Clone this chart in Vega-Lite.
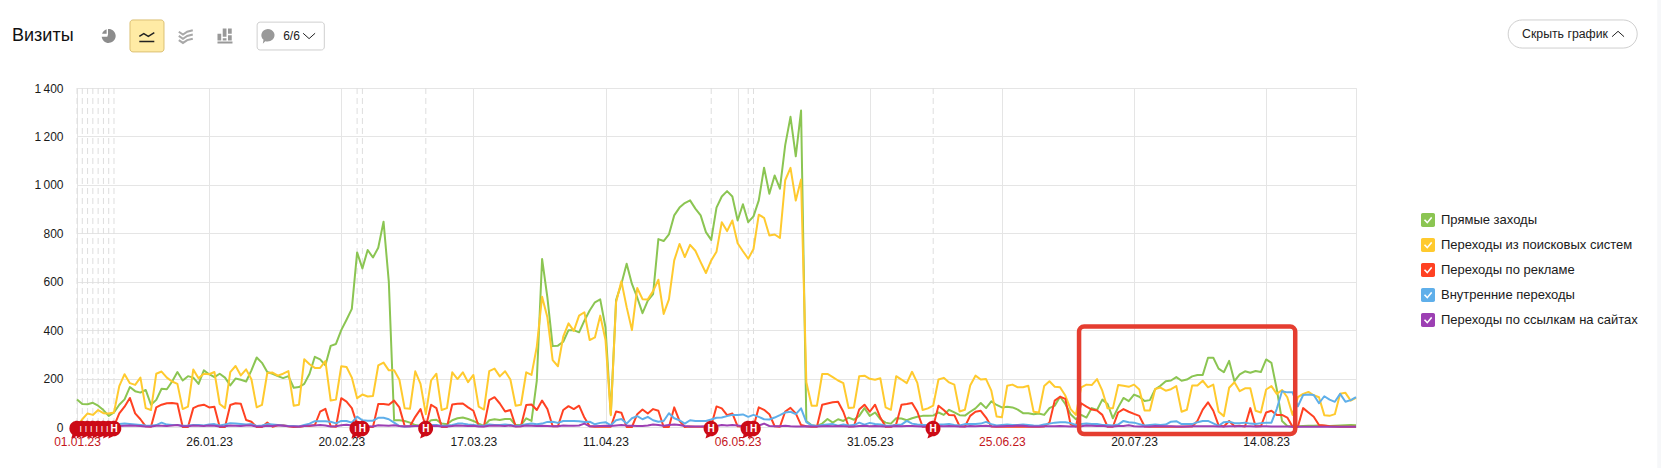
{"$schema":"https://vega.github.io/schema/vega-lite/v6.json","width":1279,"height":339,"autosize":{"type":"none"},"padding":{"left":77,"top":88,"right":305,"bottom":41},"background":"white",
"config":{"font":"Liberation Sans","view":{"stroke":"#e5e5e5"},"text":{"font":"Liberation Sans"}},
"datasets":{"daily":[
{"d":"2023-01-01","g":114,"y":4,"r":2,"b":20,"p":5},{"d":"2023-01-02","g":95,"y":32,"r":2,"b":18,"p":4},{"d":"2023-01-03","g":94,"y":56,"r":3,"b":16,"p":5},{"d":"2023-01-04","g":100,"y":50,"r":2,"b":15,"p":4},{"d":"2023-01-05","g":88,"y":70,"r":2,"b":14,"p":5},{"d":"2023-01-06","g":70,"y":57,"r":2,"b":13,"p":4},{"d":"2023-01-07","g":46,"y":56,"r":2,"b":12,"p":4},{"d":"2023-01-08","g":60,"y":60,"r":4,"b":12,"p":3},{"d":"2023-01-09","g":92,"y":169,"r":56,"b":12,"p":4},{"d":"2023-01-10","g":114,"y":218,"r":84,"b":14,"p":5},{"d":"2023-01-11","g":165,"y":181,"r":120,"b":12,"p":6},{"d":"2023-01-12","g":148,"y":174,"r":56,"b":10,"p":5},{"d":"2023-01-13","g":142,"y":204,"r":32,"b":8,"p":4},{"d":"2023-01-14","g":153,"y":78,"r":3,"b":6,"p":2},{"d":"2023-01-15","g":92,"y":70,"r":1,"b":5,"p":2},{"d":"2023-01-16","g":112,"y":220,"r":81,"b":8,"p":5},{"d":"2023-01-17","g":158,"y":229,"r":92,"b":18,"p":5},{"d":"2023-01-18","g":156,"y":204,"r":98,"b":10,"p":4},{"d":"2023-01-19","g":188,"y":188,"r":99,"b":8,"p":6},{"d":"2023-01-20","g":227,"y":178,"r":96,"b":8,"p":8},{"d":"2023-01-21","g":192,"y":74,"r":0,"b":5,"p":3},{"d":"2023-01-22","g":210,"y":84,"r":0,"b":6,"p":3},{"d":"2023-01-23","g":204,"y":237,"r":78,"b":8,"p":6},{"d":"2023-01-24","g":178,"y":201,"r":88,"b":8,"p":5},{"d":"2023-01-25","g":234,"y":220,"r":92,"b":6,"p":4},{"d":"2023-01-26","g":218,"y":218,"r":81,"b":10,"p":6},{"d":"2023-01-27","g":206,"y":227,"r":84,"b":12,"p":5},{"d":"2023-01-28","g":220,"y":95,"r":0,"b":6,"p":2},{"d":"2023-01-29","g":204,"y":78,"r":0,"b":10,"p":3},{"d":"2023-01-30","g":172,"y":227,"r":91,"b":16,"p":6},{"d":"2023-01-31","g":200,"y":252,"r":98,"b":14,"p":5},
{"d":"2023-02-01","g":195,"y":213,"r":96,"b":12,"p":4},{"d":"2023-02-02","g":188,"y":238,"r":29,"b":10,"p":6},{"d":"2023-02-03","g":234,"y":197,"r":22,"b":12,"p":6},{"d":"2023-02-04","g":287,"y":81,"r":0,"b":4,"p":2},{"d":"2023-02-05","g":265,"y":91,"r":0,"b":6,"p":2},{"d":"2023-02-06","g":227,"y":223,"r":18,"b":12,"p":5},{"d":"2023-02-07","g":220,"y":225,"r":1,"b":10,"p":4},{"d":"2023-02-08","g":210,"y":212,"r":7,"b":8,"p":7},{"d":"2023-02-09","g":202,"y":220,"r":7,"b":6,"p":5},{"d":"2023-02-10","g":210,"y":231,"r":3,"b":4,"p":3},{"d":"2023-02-11","g":162,"y":88,"r":0,"b":4,"p":2},{"d":"2023-02-12","g":165,"y":92,"r":0,"b":2,"p":2},{"d":"2023-02-13","g":178,"y":280,"r":4,"b":8,"p":4},{"d":"2023-02-14","g":220,"y":259,"r":4,"b":14,"p":6},{"d":"2023-02-15","g":290,"y":244,"r":8,"b":24,"p":6},{"d":"2023-02-16","g":279,"y":244,"r":63,"b":24,"p":8},{"d":"2023-02-17","g":255,"y":272,"r":75,"b":24,"p":6},{"d":"2023-02-18","g":335,"y":109,"r":3,"b":22,"p":2},{"d":"2023-02-19","g":343,"y":113,"r":1,"b":15,"p":3},{"d":"2023-02-20","g":400,"y":251,"r":119,"b":25,"p":7},{"d":"2023-02-21","g":443,"y":248,"r":105,"b":25,"p":9},{"d":"2023-02-22","g":488,"y":204,"r":78,"b":18,"p":6},{"d":"2023-02-23","g":721,"y":119,"r":11,"b":43,"p":3},{"d":"2023-02-24","g":655,"y":134,"r":0,"b":28,"p":3},{"d":"2023-02-25","g":731,"y":126,"r":0,"b":26,"p":3},{"d":"2023-02-26","g":700,"y":128,"r":0,"b":26,"p":2},{"d":"2023-02-27","g":740,"y":254,"r":95,"b":38,"p":7},{"d":"2023-02-28","g":848,"y":266,"r":95,"b":38,"p":6},
{"d":"2023-03-01","g":599,"y":234,"r":92,"b":32,"p":5},{"d":"2023-03-02","g":28,"y":234,"r":109,"b":18,"p":7},{"d":"2023-03-03","g":28,"y":195,"r":81,"b":4,"p":4},{"d":"2023-03-04","g":25,"y":77,"r":4,"b":2,"p":2},{"d":"2023-03-05","g":18,"y":75,"r":3,"b":3,"p":3},{"d":"2023-03-06","g":8,"y":230,"r":42,"b":4,"p":4},{"d":"2023-03-07","g":4,"y":178,"r":74,"b":5,"p":5},{"d":"2023-03-08","g":10,"y":53,"r":0,"b":3,"p":3},{"d":"2023-03-09","g":28,"y":192,"r":92,"b":8,"p":4},{"d":"2023-03-10","g":30,"y":220,"r":78,"b":8,"p":5},{"d":"2023-03-11","g":14,"y":70,"r":0,"b":5,"p":2},{"d":"2023-03-12","g":11,"y":78,"r":0,"b":6,"p":2},{"d":"2023-03-13","g":28,"y":226,"r":93,"b":8,"p":4},{"d":"2023-03-14","g":36,"y":198,"r":96,"b":14,"p":6},{"d":"2023-03-15","g":39,"y":226,"r":97,"b":14,"p":5},{"d":"2023-03-16","g":33,"y":185,"r":81,"b":10,"p":4},{"d":"2023-03-17","g":25,"y":215,"r":67,"b":8,"p":5},{"d":"2023-03-18","g":14,"y":84,"r":4,"b":6,"p":2},{"d":"2023-03-19","g":4,"y":72,"r":3,"b":5,"p":2},{"d":"2023-03-20","g":28,"y":231,"r":111,"b":10,"p":5},{"d":"2023-03-21","g":32,"y":241,"r":123,"b":8,"p":6},{"d":"2023-03-22","g":29,"y":209,"r":97,"b":8,"p":5},{"d":"2023-03-23","g":33,"y":230,"r":64,"b":10,"p":4},{"d":"2023-03-24","g":33,"y":196,"r":70,"b":8,"p":6},{"d":"2023-03-25","g":8,"y":88,"r":3,"b":4,"p":2},{"d":"2023-03-26","g":8,"y":92,"r":3,"b":6,"p":3},{"d":"2023-03-27","g":36,"y":226,"r":91,"b":11,"p":6},{"d":"2023-03-28","g":25,"y":215,"r":93,"b":14,"p":5},{"d":"2023-03-29","g":192,"y":332,"r":70,"b":11,"p":4},{"d":"2023-03-30","g":694,"y":538,"r":109,"b":14,"p":5},{"d":"2023-03-31","g":535,"y":453,"r":74,"b":21,"p":4},
{"d":"2023-04-01","g":334,"y":276,"r":3,"b":22,"p":3},{"d":"2023-04-02","g":336,"y":251,"r":3,"b":17,"p":3},{"d":"2023-04-03","g":352,"y":373,"r":70,"b":25,"p":6},{"d":"2023-04-04","g":400,"y":428,"r":86,"b":25,"p":5},{"d":"2023-04-05","g":400,"y":397,"r":74,"b":25,"p":5},{"d":"2023-04-06","g":391,"y":460,"r":88,"b":24,"p":6},{"d":"2023-04-07","g":439,"y":474,"r":39,"b":21,"p":14},{"d":"2023-04-08","g":481,"y":359,"r":3,"b":22,"p":3},{"d":"2023-04-09","g":515,"y":370,"r":1,"b":11,"p":3},{"d":"2023-04-10","g":527,"y":460,"r":1,"b":17,"p":4},{"d":"2023-04-11","g":411,"y":359,"r":1,"b":20,"p":5},{"d":"2023-04-12","g":53,"y":49,"r":1,"b":7,"p":4},{"d":"2023-04-13","g":524,"y":515,"r":64,"b":28,"p":6},{"d":"2023-04-14","g":591,"y":602,"r":59,"b":33,"p":8},{"d":"2023-04-15","g":674,"y":495,"r":0,"b":14,"p":6},{"d":"2023-04-16","g":591,"y":400,"r":0,"b":36,"p":5},{"d":"2023-04-17","g":535,"y":574,"r":53,"b":45,"p":4},{"d":"2023-04-18","g":470,"y":528,"r":72,"b":32,"p":4},{"d":"2023-04-19","g":522,"y":527,"r":56,"b":42,"p":6},{"d":"2023-04-20","g":549,"y":561,"r":74,"b":28,"p":10},{"d":"2023-04-21","g":776,"y":608,"r":67,"b":22,"p":8},{"d":"2023-04-22","g":768,"y":467,"r":0,"b":25,"p":5},{"d":"2023-04-23","g":795,"y":527,"r":0,"b":57,"p":8},{"d":"2023-04-24","g":874,"y":688,"r":81,"b":36,"p":10},{"d":"2023-04-25","g":906,"y":756,"r":25,"b":28,"p":8},{"d":"2023-04-26","g":925,"y":702,"r":0,"b":14,"p":4},{"d":"2023-04-27","g":936,"y":752,"r":2,"b":28,"p":2},{"d":"2023-04-28","g":902,"y":728,"r":1,"b":25,"p":2},{"d":"2023-04-29","g":874,"y":681,"r":1,"b":25,"p":2},{"d":"2023-04-30","g":805,"y":636,"r":1,"b":25,"p":3},
{"d":"2023-05-01","g":773,"y":688,"r":5,"b":31,"p":4},{"d":"2023-05-02","g":906,"y":724,"r":85,"b":38,"p":4},{"d":"2023-05-03","g":952,"y":846,"r":77,"b":39,"p":8},{"d":"2023-05-04","g":974,"y":809,"r":49,"b":45,"p":6},{"d":"2023-05-05","g":952,"y":853,"r":56,"b":50,"p":8},{"d":"2023-05-06","g":853,"y":759,"r":3,"b":50,"p":6},{"d":"2023-05-07","g":920,"y":726,"r":1,"b":52,"p":3},{"d":"2023-05-08","g":846,"y":695,"r":1,"b":42,"p":3},{"d":"2023-05-09","g":870,"y":735,"r":1,"b":50,"p":3},{"d":"2023-05-10","g":936,"y":877,"r":81,"b":42,"p":6},{"d":"2023-05-11","g":1071,"y":864,"r":71,"b":32,"p":14},{"d":"2023-05-12","g":963,"y":791,"r":53,"b":31,"p":4},{"d":"2023-05-13","g":1039,"y":795,"r":3,"b":39,"p":3},{"d":"2023-05-14","g":984,"y":781,"r":1,"b":49,"p":3},{"d":"2023-05-15","g":1164,"y":1019,"r":64,"b":60,"p":5},{"d":"2023-05-16","g":1281,"y":1070,"r":79,"b":63,"p":3},{"d":"2023-05-17","g":1118,"y":935,"r":56,"b":53,"p":2},{"d":"2023-05-18","g":1307,"y":1022,"r":8,"b":77,"p":2},{"d":"2023-05-19","g":25,"y":185,"r":3,"b":20,"p":3},{"d":"2023-05-20","g":7,"y":88,"r":1,"b":7,"p":2},{"d":"2023-05-21","g":4,"y":88,"r":1,"b":4,"p":2},{"d":"2023-05-22","g":14,"y":219,"r":92,"b":8,"p":3},{"d":"2023-05-23","g":33,"y":219,"r":97,"b":10,"p":4},{"d":"2023-05-24","g":18,"y":206,"r":102,"b":12,"p":3},{"d":"2023-05-25","g":32,"y":192,"r":104,"b":5,"p":4},{"d":"2023-05-26","g":25,"y":181,"r":63,"b":10,"p":3},{"d":"2023-05-27","g":39,"y":78,"r":2,"b":6,"p":2},{"d":"2023-05-28","g":30,"y":81,"r":3,"b":8,"p":2},{"d":"2023-05-29","g":46,"y":210,"r":72,"b":18,"p":4},{"d":"2023-05-30","g":78,"y":212,"r":92,"b":10,"p":5},{"d":"2023-05-31","g":46,"y":199,"r":63,"b":17,"p":3},
{"d":"2023-06-01","g":60,"y":195,"r":92,"b":12,"p":4},{"d":"2023-06-02","g":32,"y":201,"r":39,"b":10,"p":3},{"d":"2023-06-03","g":18,"y":81,"r":1,"b":5,"p":2},{"d":"2023-06-04","g":14,"y":71,"r":1,"b":5,"p":2},{"d":"2023-06-05","g":36,"y":210,"r":11,"b":8,"p":4},{"d":"2023-06-06","g":35,"y":196,"r":92,"b":10,"p":3},{"d":"2023-06-07","g":28,"y":181,"r":95,"b":25,"p":4},{"d":"2023-06-08","g":36,"y":228,"r":99,"b":14,"p":4},{"d":"2023-06-09","g":42,"y":182,"r":63,"b":10,"p":3},{"d":"2023-06-10","g":46,"y":70,"r":1,"b":8,"p":2},{"d":"2023-06-11","g":46,"y":77,"r":1,"b":8,"p":2},{"d":"2023-06-12","g":47,"y":88,"r":1,"b":8,"p":3},{"d":"2023-06-13","g":60,"y":196,"r":88,"b":10,"p":4},{"d":"2023-06-14","g":50,"y":203,"r":70,"b":10,"p":3},{"d":"2023-06-15","g":71,"y":184,"r":50,"b":12,"p":4},{"d":"2023-06-16","g":60,"y":175,"r":49,"b":8,"p":3},{"d":"2023-06-17","g":49,"y":64,"r":3,"b":6,"p":2},{"d":"2023-06-18","g":47,"y":71,"r":2,"b":12,"p":2},{"d":"2023-06-19","g":63,"y":171,"r":46,"b":12,"p":4},{"d":"2023-06-20","g":77,"y":212,"r":63,"b":12,"p":3},{"d":"2023-06-21","g":99,"y":196,"r":67,"b":14,"p":4},{"d":"2023-06-22","g":78,"y":198,"r":39,"b":21,"p":5},{"d":"2023-06-23","g":106,"y":150,"r":2,"b":12,"p":3},{"d":"2023-06-24","g":91,"y":43,"r":1,"b":6,"p":2},{"d":"2023-06-25","g":81,"y":40,"r":1,"b":8,"p":3},{"d":"2023-06-26","g":84,"y":170,"r":1,"b":10,"p":4},{"d":"2023-06-27","g":81,"y":175,"r":1,"b":8,"p":4},{"d":"2023-06-28","g":72,"y":164,"r":1,"b":8,"p":6},{"d":"2023-06-29","g":57,"y":164,"r":1,"b":10,"p":5},{"d":"2023-06-30","g":57,"y":170,"r":1,"b":8,"p":3},
{"d":"2023-07-01","g":53,"y":63,"r":1,"b":6,"p":2},{"d":"2023-07-02","g":56,"y":60,"r":1,"b":5,"p":2},{"d":"2023-07-03","g":50,"y":169,"r":2,"b":10,"p":3},{"d":"2023-07-04","g":78,"y":189,"r":18,"b":14,"p":3},{"d":"2023-07-05","g":88,"y":166,"r":109,"b":18,"p":3},{"d":"2023-07-06","g":125,"y":164,"r":125,"b":20,"p":4},{"d":"2023-07-07","g":95,"y":130,"r":116,"b":20,"p":3},{"d":"2023-07-08","g":53,"y":74,"r":11,"b":16,"p":2},{"d":"2023-07-09","g":32,"y":50,"r":2,"b":8,"p":2},{"d":"2023-07-10","g":50,"y":164,"r":98,"b":12,"p":3},{"d":"2023-07-11","g":39,"y":175,"r":84,"b":14,"p":6},{"d":"2023-07-12","g":78,"y":173,"r":72,"b":12,"p":5},{"d":"2023-07-13","g":70,"y":198,"r":68,"b":12,"p":4},{"d":"2023-07-14","g":113,"y":150,"r":50,"b":8,"p":5},{"d":"2023-07-15","g":95,"y":77,"r":1,"b":8,"p":2},{"d":"2023-07-16","g":36,"y":77,"r":1,"b":6,"p":2},{"d":"2023-07-17","g":81,"y":173,"r":60,"b":10,"p":4},{"d":"2023-07-18","g":120,"y":170,"r":74,"b":25,"p":4},{"d":"2023-07-19","g":107,"y":166,"r":63,"b":20,"p":7},{"d":"2023-07-20","g":134,"y":175,"r":54,"b":18,"p":3},{"d":"2023-07-21","g":125,"y":155,"r":46,"b":12,"p":2},{"d":"2023-07-22","g":107,"y":68,"r":2,"b":6,"p":2},{"d":"2023-07-23","g":111,"y":68,"r":1,"b":8,"p":2},{"d":"2023-07-24","g":156,"y":157,"r":1,"b":10,"p":4},{"d":"2023-07-25","g":170,"y":163,"r":2,"b":8,"p":3},{"d":"2023-07-26","g":189,"y":150,"r":1,"b":10,"p":3},{"d":"2023-07-27","g":192,"y":156,"r":1,"b":22,"p":3},{"d":"2023-07-28","g":206,"y":169,"r":1,"b":24,"p":2},{"d":"2023-07-29","g":191,"y":63,"r":1,"b":12,"p":2},{"d":"2023-07-30","g":196,"y":71,"r":2,"b":12,"p":2},{"d":"2023-07-31","g":209,"y":171,"r":2,"b":12,"p":3},
{"d":"2023-08-01","g":215,"y":171,"r":25,"b":20,"p":3},{"d":"2023-08-02","g":215,"y":191,"r":72,"b":25,"p":3},{"d":"2023-08-03","g":286,"y":164,"r":102,"b":25,"p":3},{"d":"2023-08-04","g":286,"y":175,"r":67,"b":15,"p":3},{"d":"2023-08-05","g":241,"y":63,"r":7,"b":5,"p":2},{"d":"2023-08-06","g":226,"y":45,"r":2,"b":20,"p":2},{"d":"2023-08-07","g":273,"y":162,"r":25,"b":22,"p":3},{"d":"2023-08-08","g":189,"y":185,"r":3,"b":16,"p":3},{"d":"2023-08-09","g":217,"y":148,"r":5,"b":16,"p":3},{"d":"2023-08-10","g":230,"y":160,"r":2,"b":18,"p":3},{"d":"2023-08-11","g":224,"y":160,"r":78,"b":14,"p":3},{"d":"2023-08-12","g":231,"y":67,"r":3,"b":12,"p":2},{"d":"2023-08-13","g":227,"y":60,"r":3,"b":16,"p":3},{"d":"2023-08-14","g":279,"y":155,"r":60,"b":18,"p":3},{"d":"2023-08-15","g":265,"y":169,"r":67,"b":18,"p":2},{"d":"2023-08-16","g":157,"y":137,"r":50,"b":74,"p":2},{"d":"2023-08-17","g":25,"y":153,"r":50,"b":148,"p":2},{"d":"2023-08-18","g":4,"y":123,"r":39,"b":143,"p":2},{"d":"2023-08-19","g":2,"y":50,"r":1,"b":143,"p":1},{"d":"2023-08-20","g":3,"y":123,"r":1,"b":85,"p":1},{"d":"2023-08-21","g":4,"y":137,"r":78,"b":132,"p":1},{"d":"2023-08-22","g":5,"y":145,"r":60,"b":134,"p":1},{"d":"2023-08-23","g":5,"y":131,"r":42,"b":132,"p":1},{"d":"2023-08-24","g":6,"y":123,"r":8,"b":98,"p":1},{"d":"2023-08-25","g":5,"y":49,"r":6,"b":127,"p":1},{"d":"2023-08-26","g":4,"y":46,"r":3,"b":113,"p":1},{"d":"2023-08-27","g":5,"y":53,"r":2,"b":104,"p":1},{"d":"2023-08-28","g":6,"y":137,"r":1,"b":137,"p":1},{"d":"2023-08-29","g":7,"y":141,"r":1,"b":104,"p":1},{"d":"2023-08-30","g":8,"y":109,"r":1,"b":111,"p":1},{"d":"2023-08-31","g":7,"y":120,"r":1,"b":123,"p":1}],
"flags":[{"d":"2023-01-01","t":""},{"d":"2023-01-02","t":"s"},{"d":"2023-01-03","t":"s"},{"d":"2023-01-04","t":"s"},{"d":"2023-01-05","t":"s"},{"d":"2023-01-06","t":"s"},{"d":"2023-01-07","t":"s"},{"d":"2023-01-08","t":"h"},{"d":"2023-02-23","t":"s"},{"d":"2023-02-24","t":"h"},{"d":"2023-03-08","t":"h"},{"d":"2023-05-01","t":"h"},{"d":"2023-05-08","t":"s"},{"d":"2023-05-09","t":"h"},{"d":"2023-06-12","t":"h"}]},
"layer":[
{"data":{"values":[{"a":"2023-10-27","b":"2023-10-28","lo":-173,"hi":1763}]},"mark":{"type":"rect","fill":"#f6f7f9"},"encoding":{"x":{"field":"a","type":"temporal","title":null,"scale":{"type":"utc","domain":[{"year":2023,"month":1,"date":1,"utc":true},{"year":2023,"month":8,"date":31,"utc":true}]},"axis":{"values":[{"year":2023,"month":1,"date":1,"utc":true},{"year":2023,"month":1,"date":26,"utc":true},{"year":2023,"month":2,"date":20,"utc":true},{"year":2023,"month":3,"date":17,"utc":true},{"year":2023,"month":4,"date":11,"utc":true},{"year":2023,"month":5,"date":6,"utc":true},{"year":2023,"month":5,"date":31,"utc":true},{"year":2023,"month":6,"date":25,"utc":true},{"year":2023,"month":7,"date":20,"utc":true},{"year":2023,"month":8,"date":14,"utc":true}],"labelExpr":"utcFormat(datum.value,'%d.%m.%y')","labelAngle":0,"labelFontSize":12,"labelFont":"Liberation Sans","labelColor":{"condition":{"test":"indexof(['01.01.23','06.05.23','25.06.23'],utcFormat(datum.value,'%d.%m.%y'))>=0","value":"#c4161c"},"value":"#1a1a1a"},"labelOverlap":false,"labelBound":false,"labelFlush":false,"labelPadding":9,"domain":false,"ticks":false,"grid":true,"gridColor":"#e5e5e5","gridWidth":1}},"x2":{"field":"b"},"y":{"field":"lo","type":"quantitative","title":null,"scale":{"domain":[0,1400],"nice":false},"axis":{"values":[0,200,400,600,800,1000,1200,1400],"labelExpr":"replace(format(datum.value,','),',','\u2009')","labelFontSize":12,"labelFont":"Liberation Sans","labelColor":"#1a1a1a","labelPadding":14,"domain":false,"ticks":false,"grid":true,"gridColor":"#e5e5e5","gridWidth":1}},"y2":{"field":"hi"}}},
{"data":{"name":"flags"},"mark":{"type":"rule","stroke":"#dedede","strokeWidth":1,"strokeDash":[6,4]},"encoding":{"x":{"field":"d","type":"temporal"}}},
{"data":{"name":"daily"},"transform":[{"fold":["g","y","r","b","p"],"as":["series","visits"]}],"mark":{"type":"line","strokeWidth":2,"strokeJoin":"round","clip":false},"encoding":{"x":{"field":"d","type":"temporal"},"y":{"field":"visits","type":"quantitative"},"stroke":{"field":"series","type":"nominal","legend":null,"scale":{"domain":["g","y","r","b","p"],"range":["#8bc552","#ffca2e","#ff4122","#5fafea","#9c3fb3"]}}}},
{"data":{"values":[{"series":"g"},{"series":"y"},{"series":"r"},{"series":"b"},{"series":"p"}]},"mark":{"type":"point","filled":true,"size":0},"encoding":{"fill":{"field":"series","type":"nominal","scale":{"domain":["g","y","r","b","p"],"range":["#8bc552","#ffca2e","#ff4122","#5fafea","#9c3fb3"]},"legend":{"orient":"none","legendX":1344,"legendY":125,"title":null,"padding":0,"symbolType":"M-.75,-1H.75A.25,.25 0 0 1 1,-.75V.75A.25,.25 0 0 1 .75,1H-.75A.25,.25 0 0 1 -1,.75V-.75A.25,.25 0 0 1 -.75,-1ZM-.58,.04L-.1,.55L.6,-.28L.45,-.45L-.1,.2L-.42,-.12Z","symbolSize":196,"symbolOpacity":1,"symbolStrokeWidth":0,"labelFontSize":13,"labelFont":"Liberation Sans","labelColor":"#1a1a1a","labelOffset":6,"labelLimit":280,"rowPadding":11,"labelExpr":"{'g':'Прямые заходы','y':'Переходы из поисковых систем','r':'Переходы по рекламе','b':'Внутренние переходы','p':'Переходы по ссылкам на сайтах'}[datum.label]"}}}},
{"data":{"name":"flags"},"mark":{"type":"point","filled":true,"opacity":1,"color":"#cc0a16","size":235,"yOffset":1.5,"shape":"M0,-1A1,1 0 1 1 -.1,1L-.75,1.3L-.6,.8A1,1 0 0 1 0,-1Z"},"encoding":{"x":{"field":"d","type":"temporal"},"y":{"datum":0}}},
{"data":{"name":"flags"},"transform":[{"filter":"datum.t=='h'"}],"mark":{"type":"text","text":"Н","color":"white","fontSize":10,"fontWeight":"bold","yOffset":1.5,"baseline":"middle"},"encoding":{"x":{"field":"d","type":"temporal"},"y":{"datum":0}}},
{"data":{"name":"flags"},"transform":[{"filter":"datum.t=='s'"}],"mark":{"type":"text","text":"I","color":"white","fontSize":9,"fontWeight":"normal","yOffset":1.5,"dx":-1.5,"baseline":"middle"},"encoding":{"x":{"field":"d","type":"temporal"},"y":{"datum":0}}},
{"data":{"values":[{"a":"2023-07-09T14:24:00Z","b":"2023-08-19T12:00:00Z","lo":-29,"hi":415}]},"mark":{"type":"rect","fill":"transparent","stroke":"#e53d30","strokeWidth":4.5,"cornerRadius":5},"encoding":{"x":{"field":"a","type":"temporal"},"x2":{"field":"b"},"y":{"field":"lo","type":"quantitative"},"y2":{"field":"hi"}}},
{"data":{"values":[{"a":"2023-09-28T19:00:00Z","b":"2023-10-23T05:00:00Z","lo":1565,"hi":1681}]},"mark":{"type":"rect","fill":"white","stroke":"#cfcfcf","strokeWidth":1,"cornerRadius":14},"encoding":{"x":{"field":"a","type":"temporal"},"x2":{"field":"b"},"y":{"field":"lo","type":"quantitative"},"y2":{"field":"hi"}}},
{"data":{"values":[{"a":"2023-01-11T00:40:00Z","b":"2023-01-17T11:00:00Z","lo":1549,"hi":1681}]},"mark":{"type":"rect","fill":"#ffeba5","stroke":"#dcc074","strokeWidth":1,"cornerRadius":3},"encoding":{"x":{"field":"a","type":"temporal"},"x2":{"field":"b"},"y":{"field":"lo","type":"quantitative"},"y2":{"field":"hi"}}},
{"data":{"values":[{"a":"2023-02-04T02:00:00Z","b":"2023-02-16T19:00:00Z","lo":1557,"hi":1672}]},"mark":{"type":"rect","fill":"white","stroke":"#cfcfcf","strokeWidth":1,"cornerRadius":3},"encoding":{"x":{"field":"a","type":"temporal"},"x2":{"field":"b"},"y":{"field":"lo","type":"quantitative"},"y2":{"field":"hi"}}},
{"data":{"values":[{"d":"2022-12-19T17:00:00Z","v":1615,"t":"Визиты"}]},"mark":{"type":"text","align":"left","baseline":"middle","fontSize":18,"color":"#111"},"encoding":{"x":{"field":"d","type":"temporal"},"y":{"field":"v","type":"quantitative"},"text":{"field":"t"}}},
{"data":{"values":[{"d":"2023-10-01T10:00:00Z","v":1623,"t":"Скрыть график"}]},"mark":{"type":"text","align":"left","baseline":"middle","fontSize":12.3,"color":"#222"},"encoding":{"x":{"field":"d","type":"temporal"},"y":{"field":"v","type":"quantitative"},"text":{"field":"t"}}},
{"data":{"values":[{"d":"2023-02-10T14:00:00Z","v":1615,"t":"6/6"}]},"mark":{"type":"text","align":"center","baseline":"middle","fontSize":12,"color":"#222"},"encoding":{"x":{"field":"d","type":"temporal"},"y":{"field":"v","type":"quantitative"},"text":{"field":"t"}}},
{"data":{"values":[{"d":"2023-10-19T14:00:00Z","v":1623}]},"mark":{"type":"point","filled":false,"opacity":1,"stroke":"#222","strokeWidth":1,"size":144,"shape":"M-1,.45L0,-.45L1,.45"},"encoding":{"x":{"field":"d","type":"temporal"},"y":{"field":"v","type":"quantitative"}}},
{"data":{"values":[{"d":"2023-02-13T22:00:00Z","v":1615}]},"mark":{"type":"point","filled":false,"opacity":1,"stroke":"#222","strokeWidth":1,"size":144,"shape":"M-1,-.45L0,.45L1,-.45"},"encoding":{"x":{"field":"d","type":"temporal"},"y":{"field":"v","type":"quantitative"}}},
{"data":{"values":[{"d":"2023-01-07","v":1615}]},"mark":{"type":"point","filled":true,"opacity":1,"color":"#8c8c8c","size":196,"shape":"M-.1,-1A1,1 0 1 1 -1,.1L-.2,.1L-.1,-.2ZM-.3,-.95A1,1 0 0 0 -.95,-.3L-.3,-.3Z"},"encoding":{"x":{"field":"d","type":"temporal"},"y":{"field":"v","type":"quantitative"}}},
{"data":{"values":[{"d":"2023-01-14T05:00:00Z","v":1615}]},"mark":{"type":"point","filled":false,"opacity":1,"stroke":"#222","strokeWidth":1.5,"size":225,"shape":"M-1,.75L1,.75M-1,.05L-.4,-.3L.2,.05L1,-.45"},"encoding":{"x":{"field":"d","type":"temporal"},"y":{"field":"v","type":"quantitative"}}},
{"data":{"values":[{"d":"2023-01-21T14:00:00Z","v":1615}]},"mark":{"type":"point","filled":false,"opacity":1,"stroke":"#a8a8a8","strokeWidth":2,"size":196,"shape":"M-1,-.6L-.4,-.2L.2,-.6L1,-.8M-1,0L-.4,.4L.2,0L1,-.2M-1,.6L-.4,1L.2,.6L1,.4"},"encoding":{"x":{"field":"d","type":"temporal"},"y":{"field":"v","type":"quantitative"}}},
{"data":{"values":[{"d":"2023-01-29","v":1615}]},"mark":{"type":"point","filled":true,"opacity":1,"color":"#999","size":225,"shape":"M-1,-.3H-.5V.6H-1ZM-.3,-1H.2V.1H-.3ZM-.3,.3H.2V.6H-.3ZM.4,-1H.9V-.3H.4ZM.4,-.1H.9V.6H.4ZM-1,.75H1V1H-1Z"},"encoding":{"x":{"field":"d","type":"temporal"},"y":{"field":"v","type":"quantitative"}}},
{"data":{"values":[{"d":"2023-02-06T02:00:00Z","v":1615}]},"mark":{"type":"point","filled":true,"opacity":1,"color":"#999","size":196,"shape":"M0,-1A1,.9 0 1 1 -.35,.75L-.7,1.1L-.6,.55A1,.9 0 0 1 0,-1Z"},"encoding":{"x":{"field":"d","type":"temporal"},"y":{"field":"v","type":"quantitative"}}}
],"resolve":{"scale":{"fill":"independent","stroke":"independent"}}}
